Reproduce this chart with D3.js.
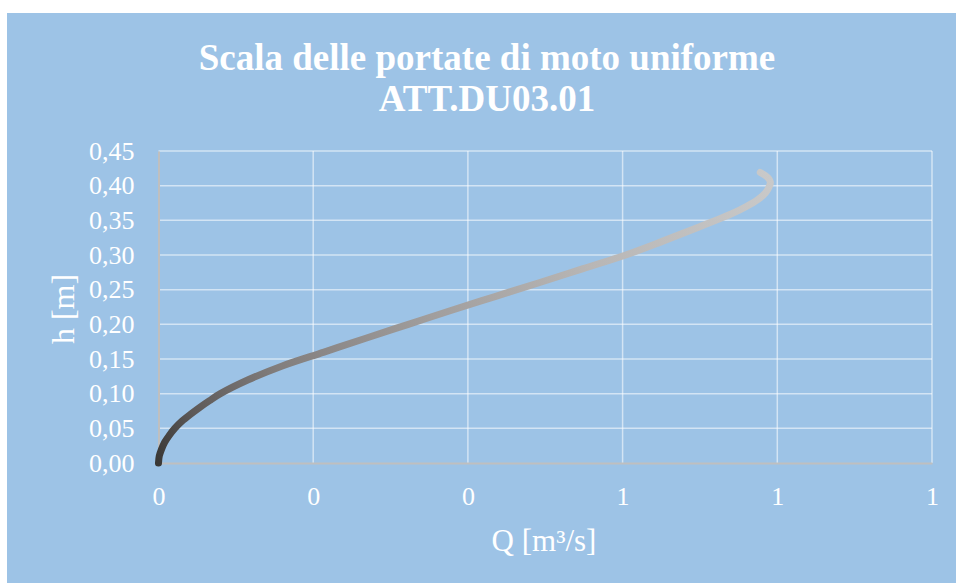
<!DOCTYPE html>
<html>
<head>
<meta charset="utf-8">
<script src="https://cdn.jsdelivr.net/npm/d3@7/dist/d3.min.js"></script>
<style>
  html, body { margin: 0; padding: 0; background: #ffffff; }
  svg { display: block; }
  text { font-family: "Liberation Serif", "Times New Roman", serif; fill: #ffffff; }
</style>
</head>
<body>
<svg id="chart" width="956" height="583"></svg>
<script>
// ---- data ----
const hValues = [0, 0.01, 0.02, 0.03, 0.04, 0.05, 0.06, 0.07, 0.08, 0.09, 0.10, 0.12, 0.14, 0.16, 0.18, 0.20, 0.22, 0.24, 0.26, 0.28, 0.30, 0.32, 0.34, 0.36, 0.37, 0.38, 0.39, 0.40, 0.405, 0.41, 0.415, 0.419];
const qValues = [0, 0.001, 0.004, 0.008, 0.014, 0.021, 0.030, 0.041, 0.053, 0.066, 0.080, 0.116, 0.160, 0.214, 0.268, 0.323, 0.378, 0.435, 0.492, 0.548, 0.604, 0.652, 0.698, 0.742, 0.760, 0.775, 0.785, 0.790, 0.791, 0.789, 0.784, 0.778];
const yTickValues = [0, 0.05, 0.10, 0.15, 0.20, 0.25, 0.30, 0.35, 0.40, 0.45];
const yTickLabels = ["0,00", "0,05", "0,10", "0,15", "0,20", "0,25", "0,30", "0,35", "0,40", "0,45"];
const xTickValues = [0, 0.2, 0.4, 0.6, 0.8, 1.0];
const xTickLabels = ["0", "0", "0", "1", "1", "1"];
const titleLines = ["Scala delle portate di moto uniforme", "ATT.DU03.01"];
const xAxisTitle = "Q [m³/s]";
const yAxisTitle = "h [m]";

const points = hValues.map((h, i) => ({ h: h, q: qValues[i] }));

const svg = d3.select("#chart");
const W = 956, H = 583;
const plot = { left: 158.5, right: 932, top: 151, bottom: 463 };
const serif = '"Liberation Serif", "Times New Roman", serif';

// background panel
svg.append("rect")
  .attr("x", 7).attr("y", 13)
  .attr("width", W - 7).attr("height", H - 13)
  .attr("fill", "#9DC3E6");

const x = d3.scaleLinear().domain([0, 1.0]).range([plot.left, plot.right]);
const y = d3.scaleLinear().domain([0, 0.45]).range([plot.bottom, plot.top]);

// gridlines
const grid = svg.append("g");
grid.selectAll("line.hg").data(yTickValues.filter(v => v > 0)).join("line")
  .attr("x1", plot.left).attr("x2", plot.right)
  .attr("y1", d => y(d)).attr("y2", d => y(d))
  .attr("stroke", "#ffffff").attr("stroke-opacity", 0.55).attr("stroke-width", 1.5);
grid.selectAll("line.vg").data(xTickValues.filter(v => v > 0)).join("line")
  .attr("y1", plot.top).attr("y2", plot.bottom)
  .attr("x1", d => x(d)).attr("x2", d => x(d))
  .attr("stroke", "#ffffff").attr("stroke-opacity", 0.55).attr("stroke-width", 1.5);

// axes
const yAxis = d3.axisLeft(y).tickValues(yTickValues)
  .tickFormat((d, i) => yTickLabels[i]).tickSize(0).tickPadding(24);
const gy = svg.append("g").attr("transform", `translate(${plot.left},0)`).call(yAxis);
gy.attr("font-size", null).attr("font-family", null);
gy.select(".domain").attr("stroke", "#BFBFBF").attr("stroke-width", 2);
gy.selectAll("text").attr("font-size", 26).style("font-size", "26px").attr("fill", "#ffffff")
  .style("font-family", serif);

const xAxis = d3.axisBottom(x).tickValues(xTickValues)
  .tickFormat((d, i) => xTickLabels[i]).tickSize(0).tickPadding(22);
const gx = svg.append("g").attr("transform", `translate(0,${plot.bottom})`).call(xAxis);
gx.attr("font-size", null).attr("font-family", null);
gx.select(".domain").attr("stroke", "#BFBFBF").attr("stroke-width", 2);
gx.selectAll("text").attr("font-size", 26).style("font-size", "26px").attr("fill", "#ffffff")
  .style("font-family", serif).attr("dy", "0.75em");

// gradient for the curve
const defs = svg.append("defs");
const grad = defs.append("linearGradient").attr("id", "curveGrad")
  .attr("gradientUnits", "userSpaceOnUse")
  .attr("x1", x(0)).attr("y1", y(0))
  .attr("x2", x(0.79)).attr("y2", y(0.42));
[[0, "#3a3836"], [0.08, "#5e5a59"], [0.22, "#827e7d"], [0.45, "#a09d9c"], [0.7, "#b8b6b5"], [1, "#c9c9c9"]]
  .forEach(s => grad.append("stop").attr("offset", s[0]).attr("stop-color", s[1]));

const line = d3.line().x(d => x(d.q)).y(d => y(d.h)).curve(d3.curveCatmullRom.alpha(0.5));
svg.append("path").datum(points)
  .attr("d", line)
  .attr("fill", "none")
  .attr("stroke", "url(#curveGrad)")
  .attr("stroke-width", 7)
  .attr("stroke-linecap", "round")
  .attr("stroke-linejoin", "round");

// titles
svg.append("text").attr("x", 487).attr("y", 70).attr("text-anchor", "middle")
  .style("font-size", "37px").style("font-weight", "bold").text(titleLines[0]);
svg.append("text").attr("x", 487).attr("y", 111).attr("text-anchor", "middle")
  .style("font-size", "37px").style("font-weight", "bold").text(titleLines[1]);

svg.append("text").attr("x", 544).attr("y", 551).attr("text-anchor", "middle")
  .style("font-size", "31px").text(xAxisTitle);
svg.append("text").attr("transform", "translate(74,309) rotate(-90)").attr("text-anchor", "middle")
  .style("font-size", "32px").text(yAxisTitle);
</script>
</body>
</html>
